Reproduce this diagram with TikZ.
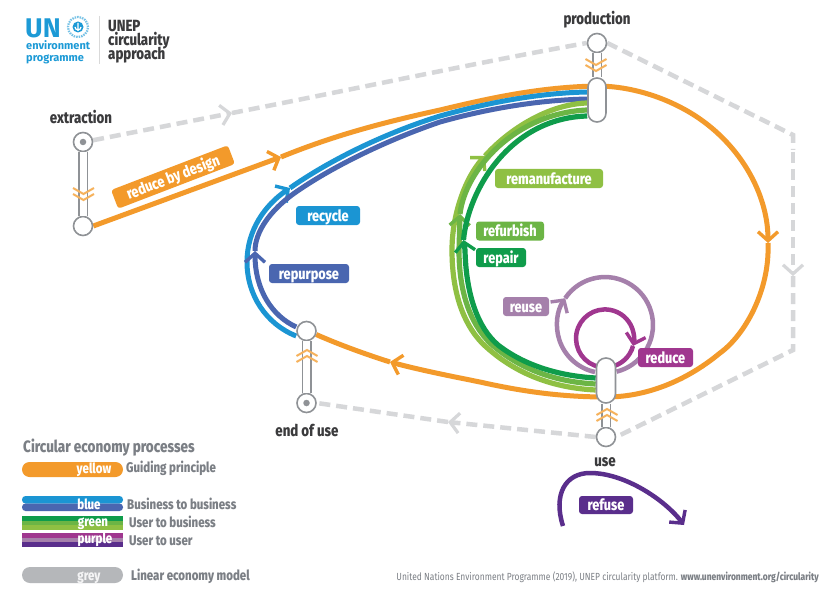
\documentclass[tikz,border=0pt]{standalone}
\usepackage{fontspec}
\setmainfont{Fira Sans}
\newfontfamily\cond[FakeStretch=0.82,BoldFont={Fira Sans ExtraBold}]{Fira Sans}
\usetikzlibrary{arrows.meta,backgrounds,shapes.misc}
\definecolor{orng}{HTML}{F39A2B}
\definecolor{chev}{HTML}{F6B25C}
\definecolor{recy}{HTML}{1B95D3}
\definecolor{repu}{HTML}{4A66B0}
\definecolor{rema}{HTML}{8FC043}
\definecolor{refu}{HTML}{6CB545}
\definecolor{repa}{HTML}{0F9C4B}
\definecolor{reus}{HTML}{A580AB}
\definecolor{redu}{HTML}{A0378F}
\definecolor{refs}{HTML}{5A2E8C}
\definecolor{dashg}{HTML}{D6D7D9}
\definecolor{stat}{HTML}{8F9296}
\definecolor{dark}{HTML}{3B3B3D}
\definecolor{leg}{HTML}{7B7F85}
\definecolor{ung}{HTML}{1C9AD6}
\definecolor{barg}{HTML}{B5B7BA}
\tikzset{
 arrtip/.style={-{Straight Barb[length=9pt,width=20pt,line width=3.4pt]}},
 flow/.style={line width=#1,line cap=butt},
 linear/.style={draw=dashg,line width=4.5pt,dash pattern=on 11pt off 6pt},
 lintip/.style={linear,-{Straight Barb[length=9pt,width=20pt,line width=3.2pt]}},
 tag/.style={fill=#1,rounded corners=3pt,text=white,font=\cond\bfseries\fontsize{15.5}{15.5}\selectfont,inner sep=0pt,text height=11pt,text depth=0pt},
 head/.style={text=dark,font=\cond\bfseries\fontsize{16.2}{16.2}\selectfont,inner sep=0pt,text height=12pt,text depth=2pt},
 legt/.style={text=leg,font=\cond\bfseries\fontsize{14}{14}\selectfont,anchor=west,inner sep=0pt,text height=10pt,text depth=3pt},
 legw/.style={text=white,font=\cond\bfseries\fontsize{14}{14}\selectfont,inner sep=0pt,text height=10pt,text depth=3pt},
 knob/.style={circle,draw=stat,line width=1.6pt,fill=white,minimum size=19pt,inner sep=0pt},
 stemo/.style={draw=stat,line width=10pt},
 stemi/.style={draw=white,line width=7pt},
 chevp/.pic={\draw[chev,line width=2pt] (-10.5,-3)--(0,3)--(10.5,-3) (-10.5,3)--(0,9)--(10.5,3);}
}
\begin{document}
\begin{tikzpicture}[x=1pt,y=-1pt]
\useasboundingbox (0,0) rectangle (830,591);
% stations
\node[knob] (extTop) at (83,142) {};
\node[knob] (extBot) at (83,226) {};
\node[knob] (prodTop) at (597,43) {};
\node[draw=stat,line width=1.6pt,fill=white,rounded corners=8.9pt,minimum width=18pt,minimum height=44pt,inner sep=0pt] (prodCap) at (597,100) {};
\node[draw=stat,line width=1.6pt,fill=white,rounded corners=9.4pt,minimum width=19pt,minimum height=45pt,inner sep=0pt] (useCap) at (606,380.5) {};
\node[knob] (useBot) at (606,437) {};
\node[knob] (endTop) at (306.5,331) {};
\node[knob] (endBot) at (306.5,403) {};
\begin{scope}[on background layer]
\fill[white] (0,0) rectangle (830,591);
% linear economy
\draw[lintip] (extTop.10) -- (232,113) coordinate (g1);
\draw[linear] (g1) .. controls (350,90) and (480,62) .. (prodTop.west);
\draw[linear] (prodTop.east) -- (793,135) -- (793,150);
\draw[lintip] (793,152) -- (793,276) coordinate (g2);
\draw[linear] (g2) -- (793,350) -- (useBot.east);
\draw[lintip] (useBot.west) -- (448,422) coordinate (g3);
\draw[linear] (g3) -- (endBot.east);
% orange loop
\draw[flow=5pt,orng,arrtip] (extBot.east) -- (281,157) coordinate (o1);
\draw[flow=5pt,orng] (o1) .. controls (335,135) and (385,122) .. (440,110) .. controls (490,98) and (540,87) .. ([yshift=14pt]prodCap.center) coordinate (o2);
\draw[flow=5pt,orng,arrtip] (o2) .. controls (625,86) and (655,94) .. (680,107) .. controls (735,135) and (768,190) .. (768,243) coordinate (o3);
\draw[flow=5pt,orng] (o3) .. controls (770,290) and (745,335) .. (720,353) .. controls (690,378) and (650,397) .. ([yshift=-16.5pt]useCap.center) coordinate (o4);
\draw[flow=5pt,orng,arrtip] (o4) .. controls (560,397) and (520,391) .. (480,382) .. controls (450,376) and (420,370) .. (390,362) coordinate (o5);
\draw[flow=5pt,orng] (o5) .. controls (365,354) and (340,345) .. (endTop.-20);
% blue pair
\draw[flow=5pt,recy,arrtip] ([yshift=-5pt]endTop.west) .. controls (266,324) and (247,295) .. (247,262) .. controls (247,230) and (265,205) .. (290,188) coordinate (b1);
\draw[flow=5pt,recy] (b1) .. controls (330,160) and (385,133) .. (440,116) .. controls (490,102) and (540,93) .. ([yshift=8pt]prodCap.west);
\draw[flow=5pt,repu,arrtip] ([yshift=4pt]endTop.west) .. controls (272,316) and (255,290) .. (255,251) coordinate (b2);
\draw[flow=5pt,repu] (b2) .. controls (255,232) and (270,210) .. (296,192) .. controls (335,165) and (390,139) .. (440,122) .. controls (490,108) and (540,100) .. ([yshift=1pt]prodCap.west);
% green trio
\draw[flow=5.2pt,rema,arrtip] ([yshift=-9.5pt]useCap.west) .. controls (555,388) and (515,375) .. (482,343) .. controls (462,322) and (452,290) .. (452,250) .. controls (452,215) and (465,178) .. (485,156) coordinate (g4);
\draw[flow=5.2pt,rema] (g4) .. controls (510,128) and (550,104) .. ([yshift=-3pt]prodCap.west);
\draw[flow=5.2pt,refu,arrtip] ([yshift=-3.5pt]useCap.west) .. controls (557,382) and (520,370) .. (490,343) .. controls (470,323) and (459,292) .. (459,250) -- (460,214) coordinate (g5);
\draw[flow=5.2pt,refu] (g5) .. controls (465,170) and (515,113) .. ([yshift=-10pt]prodCap.west);
\draw[flow=5.2pt,repa,arrtip] ([yshift=2.5pt]useCap.west) .. controls (560,376) and (525,366) .. (498,345) .. controls (478,328) and (466,295) .. (465,250) -- (463.5,240) coordinate (g6);
\draw[flow=5.2pt,repa] (g6) .. controls (468,190) and (510,118) .. ([yshift=-16pt]prodCap.west);
% reuse and reduce
\draw[flow=4.5pt,reus,arrtip] (595,372) coordinate (r0) arc[start angle=102,end angle=214,radius=48] coordinate (r1);
\draw[flow=4.5pt,reus] (r1) arc[start angle=214,end angle=436,radius=48];
\draw[flow=4.5pt,redu,arrtip] (600,367) coordinate (d0) arc[start angle=100,end angle=375,radius=29] coordinate (d1);
\draw[flow=4.5pt,redu] (d1) arc[start angle=375,end angle=440,radius=29];
% stems outer
\draw[stemo] (extTop) -- (extBot);
\draw[stemo] (prodTop) -- (prodCap);
\draw[stemo] (useCap) -- (useBot);
\draw[stemo] (endTop) -- (endBot);
\end{scope}
% stems inner
\draw[stemi] (extTop) -- (extBot);
\draw[stemi] (prodTop) -- (prodCap);
\draw[stemi] (useCap) -- (useBot);
\draw[stemi] (endTop) -- (endBot);
\node[circle,fill=stat,minimum size=6.5pt,inner sep=0pt] (extDot) at (extTop) {};
\node[circle,fill=stat,minimum size=6.5pt,inner sep=0pt] (endDot) at (endBot) {};
\pic at (83.5,191) {chevp};
\pic at (596,62) {chevp};
\pic[rotate=180] at (607,418) {chevp};
\pic[rotate=180] at (307,359) {chevp};
% refuse
\coordinate (rf0) at (563,526);
\coordinate (rf1) at (684,525);
\draw[flow=4.5pt,refs,arrtip] (rf0) .. controls (553,495) and (565,473) .. (590,473) .. controls (625,473) and (665,500) .. (rf1);
% headings
\node[head] (nExt) at (81,118.7) {extraction};
\node[head] (nProd) at (597,19.3) {production};
\node[head] (nEnd) at (307,431) {end of use};
\node[head] (nUse) at (605,461) {use};
% tags
\node[tag=orng,rotate=21,minimum width=125pt,minimum height=20pt] (tDesign) at (173,177) {reduce by design};
\node[tag=rema,minimum width=108pt,minimum height=19pt] (tRema) at (549,178.5) {remanufacture};
\node[tag=refu,minimum width=68pt,minimum height=19pt] (tRefu) at (510,231) {refurbish};
\node[tag=repa,minimum width=50pt,minimum height=19pt] (tRepa) at (501,257.5) {repair};
\node[tag=recy,minimum width=64pt,minimum height=19pt] (tRecy) at (328,215.5) {recycle};
\node[tag=repu,minimum width=80pt,minimum height=19pt] (tRepu) at (309,273.5) {repurpose};
\node[tag=reus,minimum width=46pt,minimum height=19pt] (tReus) at (526,306.5) {reuse};
\node[tag=redu,minimum width=55pt,minimum height=19pt] (tRedu) at (665.5,357.5) {reduce};
\node[tag=refs,minimum width=54pt,minimum height=18pt] (tRefs) at (606,505) {refuse};
% logo
\node[anchor=west,text=ung,font=\bfseries\fontsize{27}{27}\selectfont,inner sep=0pt] (logoUN) at (25,28) {UN};
\node[circle,fill=ung,minimum size=11pt,inner sep=0pt] (logoE) at (78,27) {};
\node[circle,draw=ung!60,line width=2.2pt,dash pattern=on 1.5pt off 1pt,minimum size=20pt,inner sep=0pt] (logoR) at (78,27) {};
\draw[white,line width=1.2pt] (78,23) -- (78,31) (75,27) arc[start angle=180,end angle=0,radius=3];
\node[anchor=west,text=ung,font=\bfseries\fontsize{11}{11}\selectfont,inner sep=0pt,text height=8pt,text depth=2.5pt] (logoT1) at (26,47) {environment};
\node[anchor=west,text=ung,font=\bfseries\fontsize{11}{11}\selectfont,inner sep=0pt,text height=8pt,text depth=2.5pt] (logoT2) at (26,58.5) {programme};
\draw[draw=black!15,line width=1pt] (99,16) -- (99,64);
\node[anchor=west,head] (logoA) at (108,26.7) {UNEP};
\node[anchor=west,head] (logoB) at (108,41) {circularity};
\node[anchor=west,head] (logoC) at (108,54.5) {approach};
% legend
\node[legt,font=\cond\bfseries\fontsize{16.5}{16.5}\selectfont] (lTitle) at (23,449) {Circular economy processes};
\fill[orng,rounded corners=7.5pt] (22,462) rectangle (123,477);
\node[legw] (lY) at (94,469.5) {yellow};
\node[legt] (lYt) at (126,469) {Guiding principle};
\fill[recy,rounded corners=3.5pt] (22,496) rectangle (123,503.5);
\fill[repu,rounded corners=3.5pt] (22,503.5) rectangle (123,511);
\node[legw] (lB) at (89,506) {blue};
\node[legt] (lBt) at (127,505.5) {Business to business};
\fill[repa] (22,516) rectangle (123,520.7);
\fill[refu] (22,520.7) rectangle (123,525.4);
\fill[rema] (22,525.4) rectangle (123,530);
\node[legw] (lG) at (93,522.5) {green};
\node[legt] (lGt) at (129,524) {User to business};
\fill[redu] (22,533) rectangle (123,537.7);
\fill[reus] (22,537.7) rectangle (123,542.4);
\fill[refs] (22,542.4) rectangle (123,547);
\node[legw] (lP) at (95,540) {purple};
\node[legt] (lPt) at (129,541.5) {User to user};
\fill[barg,rounded corners=8pt] (22,567) rectangle (123,583);
\node[legw,text=white!85!barg] (lK) at (89,576.5) {grey};
\node[legt] (lKt) at (131,577) {Linear economy model};
% source
\node[anchor=east,text=leg,font=\cond\fontsize{10.3}{10.3}\selectfont,inner sep=0pt] (src) at (819,577) {United Nations Environment Programme (2019), UNEP circularity platform. {\bfseries www.unenvironment.org/circularity}};
\end{tikzpicture}
\end{document}
